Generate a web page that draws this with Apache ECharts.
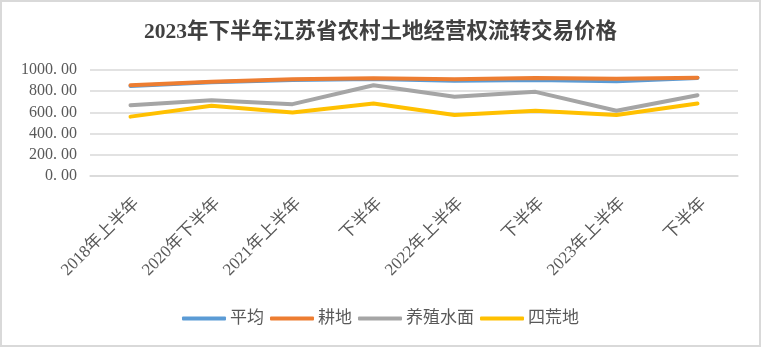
<!DOCTYPE html>
<html>
<head>
<meta charset="utf-8">
<script src="https://cdn.jsdelivr.net/npm/echarts@6/dist/echarts.min.js"></script>
<style>
html,body{margin:0;padding:0;background:#fff;}
#frame{position:absolute;left:0;top:0;width:761px;height:347px;box-sizing:border-box;border:2px solid #d9d9d9;}
#chart{position:absolute;left:0;top:0;width:761px;height:347px;}
</style>
</head>
<body>
<div id="frame"></div>
<div id="chart"></div>
<script>
const titleText = '2023年下半年江苏省农村土地经营权流转交易价格';
const categories = ['2018年上半年','2020年下半年','2021年上半年','下半年','2022年上半年','下半年','2023年上半年','下半年'];
const seriesNames = ['平均','耕地','养殖水面','四荒地'];
const avgValues   = [850, 885, 905, 915, 898, 906, 893, 925];
const farmValues  = [857, 890, 912, 921, 912, 925, 918, 928];
const aquaValues  = [668, 715, 678, 856, 747, 794, 616, 762];
const wasteValues = [560, 663, 600, 684, 575, 616, 575, 684];
const colors = ['#5B9BD5','#ED7D31','#A5A5A5','#FFC000'];

const FONT = '"Liberation Serif", "DejaVu Serif", "Noto Sans CJK SC", serif';
const chart = echarts.init(document.getElementById('chart'));
const allValues = [avgValues, farmValues, aquaValues, wasteValues];
chart.setOption({
  animation: false,
  color: colors,
  title: {
    text: titleText, left: 'center', top: 17,
    textStyle: {fontFamily: FONT, fontSize: 21.5, fontWeight: 'bold', color: '#404040'}
  },
  legend: {
    data: seriesNames, left: 'center', top: 305, itemWidth: 44, itemHeight: 4, itemGap: 6,
    icon: 'roundRect',
    textStyle: {fontFamily: FONT, fontSize: 17, color: '#595959', padding: [0,0,0,-1]}
  },
  grid: {left: 90, right: 23, top: 70, bottom: 171, containLabel: false},
  xAxis: {
    type: 'category', data: categories, boundaryGap: true,
    axisLine: {show: true, lineStyle: {color: '#d9d9d9', width: 1.5}},
    axisTick: {show: false},
    axisLabel: {rotate: 45, margin: 19, interval: 0, verticalAlign: 'top', fontFamily: FONT, fontSize: 17, color: '#595959'}
  },
  yAxis: {
    type: 'value', min: 0, max: 1000, interval: 200,
    axisLine: {show: false}, axisTick: {show: false},
    splitLine: {lineStyle: {color: '#d9d9d9', width: 1.5}},
    axisLabel: {margin: 13, fontFamily: FONT, fontSize: 16, color: '#595959',
      formatter: v => v.toFixed(2).replace('.', '. ')}
  },
  series: seriesNames.map((n, i) => ({
    name: n, type: 'line', data: allValues[i], symbol: 'none',
    lineStyle: {width: 4, color: colors[i], cap: 'round', join: 'round'},
    z: i === 1 ? 3 : 2
  }))
});
</script>
</body>
</html>
